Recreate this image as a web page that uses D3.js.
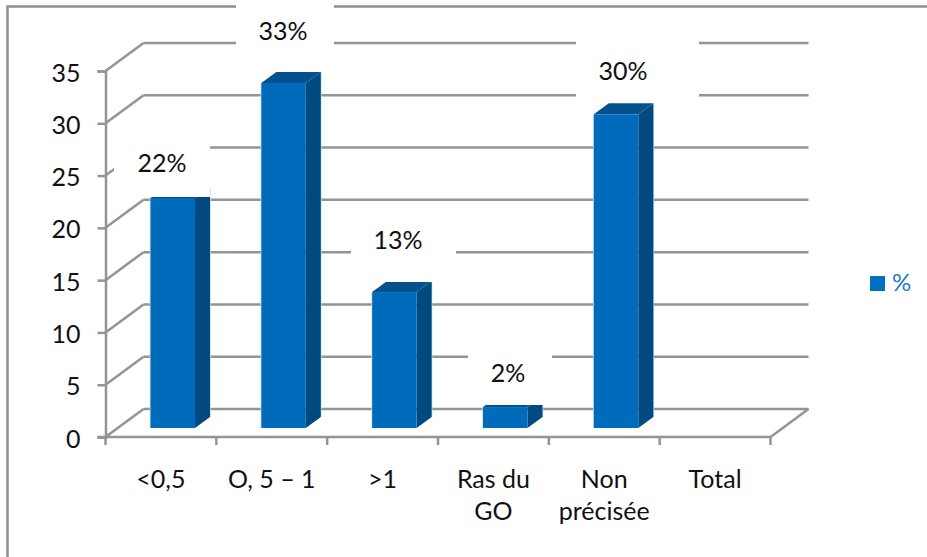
<!DOCTYPE html>
<html>
<head>
<meta charset="utf-8">
<script src="https://cdn.jsdelivr.net/npm/d3@7"></script>
<style>
    html, body { margin: 0; padding: 0; background: #fff; }
    svg { display: block; }
    text { font-family: Lato, "Open Sans", sans-serif; fill: #111; }
</style>
</head>
<body>
<script>
var categories = ["<0,5", "O, 5 – 1", ">1", "Ras du GO", "Non précisée", "Total"];
var values = [22, 33, 13, 2, 30, null];
var valueTicks = [0, 5, 10, 15, 20, 25, 30, 35];
var seriesName = "%";

// category names that wrap on two lines
var wrapped = { "Ras du GO": ["Ras du", "GO"], "Non précisée": ["Non", "précisée"] };

var svgWidth = 927,
    svgHeight = 557;
var fontSize = 25;

// 3D look: the back wall is the front plane shifted by this much
var wallDX = 38,
    wallDY = -28;
// bars stand in the middle of the floor, with their own small depth
var barDX = 15,
    barDY = -11,
    barInset = 45,
    barWidth = 44.5,
    barLift = 9;

var svg = d3.select("body").append("svg").attr("width", svgWidth).attr("height", svgHeight);

var x = d3.scaleBand().domain(categories).range([105.5, 770.5]);
var y = d3.scaleLinear().domain([0, 35]).range([437, 71]);
var edges = categories.map(d => x(d)).concat(x.range()[1]);

var gridColor = "#949494";

// frame of the chart area, open on the right and at the bottom
svg.append("path")
    .attr("d", "M927,6.5H7.5V557")
    .attr("fill", "none")
    .attr("stroke", "#8e8e8e")
    .attr("stroke-width", 2.5);

// gridlines on the back wall and the slanted lines on the side wall
var grid = svg.append("g").attr("fill", "none").attr("stroke", gridColor).attr("stroke-width", 2.5);

grid.selectAll("line.back")
    .data(valueTicks)
    .enter()
    .append("line")
    .attr("class", "back")
    .attr("x1", x.range()[0] + wallDX)
    .attr("x2", x.range()[1] + wallDX)
    .attr("y1", d => y(d) + wallDY)
    .attr("y2", d => y(d) + wallDY);

grid.selectAll("line.side")
    .data(valueTicks)
    .enter()
    .append("line")
    .attr("class", "side")
    .attr("x1", x.range()[0])
    .attr("x2", x.range()[0] + wallDX)
    .attr("y1", d => y(d))
    .attr("y2", d => y(d) + wallDY);

// right edge of the floor
grid.append("line")
    .attr("x1", x.range()[1])
    .attr("x2", x.range()[1] + wallDX)
    .attr("y1", y(0))
    .attr("y2", y(0) + wallDY);

// bars
var barData = categories
    .map((c, i) => ({ name: c, value: values[i] }))
    .filter(d => d.value !== null);

var bars = svg.selectAll("g.bar")
    .data(barData)
    .enter()
    .append("g")
    .attr("class", "bar");

var barLeft = d => x(d.name) + barInset;
var barRight = d => barLeft(d) + barWidth;
var barTop = d => y(d.value) - barLift;
var barBase = y(0) - barLift;

// pale rim along the vertical edges of each bar
bars.append("path")
    .attr("d", d => "M" + barLeft(d) + "," + barBase + "V" + barTop(d)
        + "M" + (barRight(d) + barDX) + "," + (barTop(d) + barDY) + "V" + (barBase + barDY))
    .attr("fill", "none")
    .attr("stroke", "#c4e0f4")
    .attr("stroke-width", 1.5);

bars.append("path")
    .attr("d", d => "M" + barLeft(d) + "," + barTop(d)
        + "l" + barDX + "," + barDY + "h" + barWidth
        + "l" + (-barDX) + "," + (-barDY) + "Z")
    .attr("fill", "#03528f");

bars.append("path")
    .attr("d", d => "M" + barRight(d) + "," + barTop(d)
        + "l" + barDX + "," + barDY + "V" + (barBase + barDY)
        + "L" + barRight(d) + "," + barBase + "Z")
    .attr("fill", "#004a80");

bars.append("rect")
    .attr("x", barLeft)
    .attr("y", barTop)
    .attr("width", barWidth)
    .attr("height", d => barBase - barTop(d))
    .attr("fill", "#006bbb");

// value labels sit on opaque white boxes that hide what is behind them
var labelBoxes = [
    { name: "<0,5", x0: 114, x1: 210, y0: 140, y1: 197, textX: 162, textY: 172 },
    { name: "O, 5 – 1", x0: 236, x1: 334, y0: 0, y1: 72, textX: 283, textY: 40 },
    { name: ">1", x0: 351, x1: 456, y0: 222, y1: 282, textX: 398, textY: 249 },
    { name: "Ras du GO", x0: 468, x1: 552, y0: 345, y1: 405, textX: 508, textY: 382 },
    { name: "Non précisée", x0: 576, x1: 699, y0: 25, y1: 102, textX: 623, textY: 80 }
];

svg.selectAll("rect.labelBox")
    .data(labelBoxes)
    .enter()
    .append("rect")
    .attr("class", "labelBox")
    .attr("x", d => d.x0)
    .attr("y", d => d.y0)
    .attr("width", d => d.x1 - d.x0)
    .attr("height", d => d.y1 - d.y0)
    .attr("fill", "#fff");

svg.selectAll("text.valueLabel")
    .data(labelBoxes)
    .enter()
    .append("text")
    .attr("class", "valueLabel")
    .attr("x", d => d.textX)
    .attr("y", d => d.textY)
    .attr("text-anchor", "middle")
    .attr("font-size", fontSize)
    .text(d => values[categories.indexOf(d.name)] + "%");

// value axis
var yAxis = svg.append("g")
    .attr("transform", "translate(" + x.range()[0] + ",0)")
    .call(d3.axisLeft(y).tickValues(valueTicks).tickSize(8).tickPadding(17).tickFormat(d3.format("d")));

yAxis.selectAll("path, line").attr("stroke", gridColor).attr("stroke-width", 2.5);
yAxis.selectAll("text").attr("font-size", fontSize).attr("font-family", "Lato").attr("fill", "#111").attr("y", 2);

// category axis, ticks fall between the categories
svg.append("line")
    .attr("x1", x.range()[0] - 8)
    .attr("x2", x.range()[1])
    .attr("y1", y(0))
    .attr("y2", y(0))
    .attr("stroke", gridColor)
    .attr("stroke-width", 2.5);

svg.selectAll("line.catTick")
    .data(edges)
    .enter()
    .append("line")
    .attr("class", "catTick")
    .attr("x1", d => d)
    .attr("x2", d => d)
    .attr("y1", y(0))
    .attr("y2", y(0) + 8)
    .attr("stroke", gridColor)
    .attr("stroke-width", 2.5);

var catLabels = svg.selectAll("text.catLabel")
    .data(categories)
    .enter()
    .append("text")
    .attr("class", "catLabel")
    .attr("text-anchor", "middle")
    .attr("font-size", fontSize);

catLabels.selectAll("tspan")
    .data(d => wrapped[d] || [d])
    .enter()
    .append("tspan")
    .attr("x", function() {
        var name = d3.select(this.parentNode).datum();
        return x(name) + x.bandwidth() / 2;
    })
    .attr("y", (d, i) => 488 + i * 32)
    .text(d => d);

// legend
svg.append("rect")
    .attr("x", 870)
    .attr("y", 276)
    .attr("width", 15)
    .attr("height", 15)
    .attr("fill", "#0070c0");

svg.append("text")
    .attr("x", 892)
    .attr("y", 291)
    .attr("font-size", 24)
    .style("fill", "#1f77c9")
    .text(seriesName);
</script>
</body>
</html>
